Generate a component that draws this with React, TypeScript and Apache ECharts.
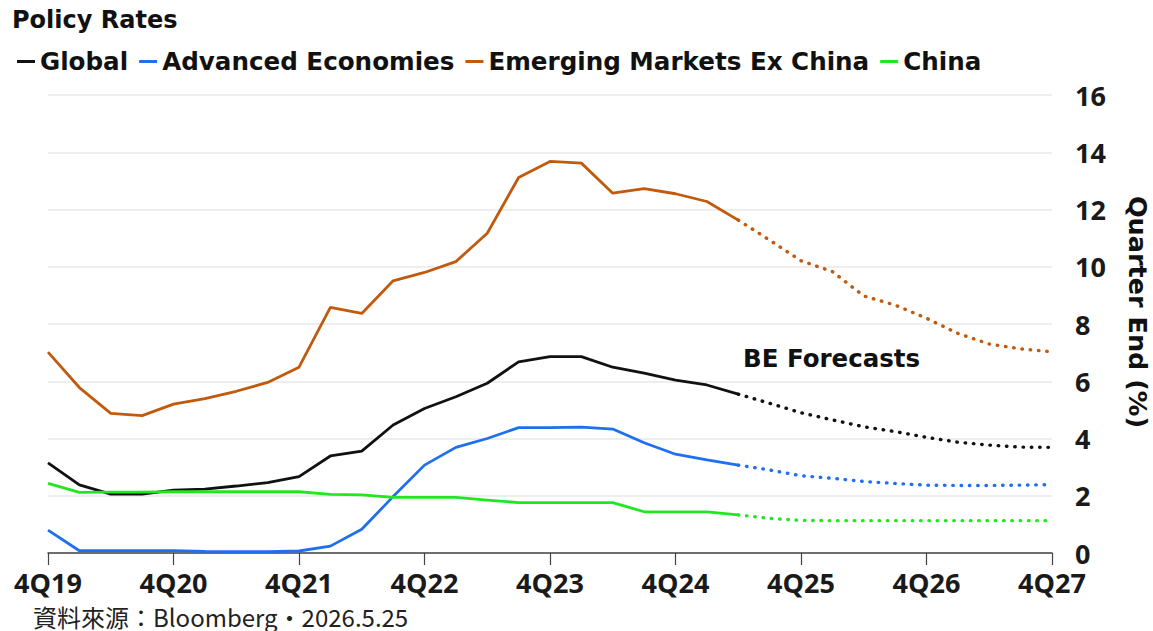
import React, { useEffect, useRef } from "react";
import * as echarts from "echarts";

const quarters = [
  "4Q19", "1Q20", "2Q20", "3Q20", "4Q20", "1Q21", "2Q21", "3Q21", "4Q21",
  "1Q22", "2Q22", "3Q22", "4Q22", "1Q23", "2Q23", "3Q23", "4Q23",
  "1Q24", "2Q24", "3Q24", "4Q24", "1Q25", "2Q25", "3Q25", "4Q25",
  "1Q26", "2Q26", "3Q26", "4Q26", "1Q27", "2Q27", "3Q27", "4Q27",
];

// index of the last actual (non-forecast) quarter
const lastActualIndex = 22;

const globalRates = [
  3.15, 2.38, 2.06, 2.06, 2.2, 2.23, 2.34, 2.46, 2.67, 3.39, 3.56, 4.47, 5.05,
  5.46, 5.93, 6.68, 6.86, 6.86, 6.49, 6.28, 6.04, 5.87, 5.55, 5.23, 4.9,
  4.65, 4.41, 4.24, 4.04, 3.87, 3.77, 3.7, 3.69,
];
const advancedRates = [
  0.8, 0.08, 0.08, 0.08, 0.08, 0.06, 0.05, 0.05, 0.07, 0.24, 0.83, 1.97, 3.07,
  3.69, 4.0, 4.38, 4.38, 4.4, 4.33, 3.85, 3.45, 3.25, 3.07, 2.9, 2.7,
  2.61, 2.5, 2.43, 2.37, 2.36, 2.36, 2.37, 2.39,
];
const emExChinaRates = [
  7.02, 5.78, 4.88, 4.8, 5.2, 5.39, 5.65, 5.96, 6.49, 8.58, 8.37, 9.51, 9.8,
  10.18, 11.17, 13.12, 13.68, 13.62, 12.57, 12.73, 12.55, 12.28, 11.63, 10.93, 10.21,
  9.83, 8.98, 8.66, 8.2, 7.67, 7.3, 7.13, 7.03,
];
const chinaRates = [
  2.43, 2.12, 2.13, 2.13, 2.14, 2.14, 2.14, 2.14, 2.14, 2.05, 2.03, 1.94, 1.94,
  1.94, 1.85, 1.76, 1.76, 1.76, 1.76, 1.44, 1.44, 1.44, 1.33, 1.21, 1.14,
  1.13, 1.13, 1.13, 1.13, 1.13, 1.13, 1.13, 1.13,
];

const seriesNames = ["Global", "Advanced Economies", "Emerging Markets Ex China", "China"];
const seriesColors = ["#111111", "#1f6ff0", "#c25a0e", "#22e622"];
const seriesValues = [globalRates, advancedRates, emExChinaRates, chinaRates];

const yTicks = { min: 0, max: 16, interval: 2 };

const titleText = "Policy Rates";
const yAxisName = "Quarter End (%)";
const forecastLabel = "BE Forecasts";
const sourceText = "資料來源：Bloomberg‧2026.5.25";

const BOLD_FONT = "DejaVu Sans";
const TICK_FONT = "Open Sans";

export default function App() {
  const ref = useRef<HTMLDivElement>(null);

  useEffect(() => {
    if (!ref.current) return;
    const chart = echarts.init(ref.current, undefined, { renderer: "svg" });

    const series: any[] = [];
    seriesNames.forEach((name, k) => {
      const vals = seriesValues[k];
      series.push({
        name,
        type: "line",
        data: vals.map((v, i) => (i <= lastActualIndex ? v : null)),
        symbol: "none",
        color: seriesColors[k],
        lineStyle: { color: seriesColors[k], width: 2.8 },
        connectNulls: false,
        z: 3 + k,
      });
      series.push({
        name: name + " forecast",
        type: "line",
        data: vals.map((v, i) => (i >= lastActualIndex ? v : null)),
        symbol: "none",
        color: seriesColors[k],
        lineStyle: {
          color: seriesColors[k],
          width: 3.4,
          type: [0.5, 7.8],
          cap: "round",
        },
        connectNulls: false,
        z: 3 + k,
      });
    });

    chart.setOption({
      animation: false,
      backgroundColor: "#ffffff",
      title: {
        text: titleText,
        left: 12,
        top: 8,
        padding: 0,
        textStyle: {
          fontFamily: BOLD_FONT,
          fontWeight: "bold",
          fontSize: 24,
          color: "#111",
        },
      },
      legend: {
        data: seriesNames.map((n, k) => ({ name: n, itemStyle: { color: seriesColors[k] } })),
        left: 17,
        top: 49,
        padding: 0,
        itemGap: 11,
        itemWidth: 18,
        itemHeight: 3,
        icon: "rect",
        textStyle: {
          fontFamily: BOLD_FONT,
          fontWeight: "bold",
          fontSize: 24.6,
          color: "#111",
        },
      },
      grid: {
        left: 48,
        right: 101,
        top: 95,
        bottom: 78,
        containLabel: false,
        outerBoundsMode: "none",
      },
      xAxis: {
        type: "category",
        data: quarters,
        boundaryGap: false,
        axisLine: { lineStyle: { color: "#444", width: 1.5 } },
        axisTick: { interval: 3, length: 12, lineStyle: { color: "#444", width: 1.2 } },
        axisLabel: {
          interval: 3,
          margin: 15,
          fontFamily: TICK_FONT,
          fontWeight: "bold",
          fontSize: 27,
          lineHeight: 28,
          color: "#1a1a1a",
        },
        splitLine: { show: false },
      },
      yAxis: {
        type: "value",
        position: "right",
        min: yTicks.min,
        max: yTicks.max,
        interval: yTicks.interval,
        name: yAxisName,
        nameLocation: "middle",
        nameRotate: -90,
        nameGap: 73,
        nameTextStyle: {
          fontFamily: BOLD_FONT,
          fontWeight: "bold",
          fontSize: 25.5,
          color: "#111",
          padding: [0, 24, 0, 0],
        },
        axisLine: { show: false },
        axisTick: { show: false },
        axisLabel: {
          margin: 23,
          fontFamily: TICK_FONT,
          fontWeight: "bold",
          fontSize: 27,
          lineHeight: 26,
          color: "#1a1a1a",
        },
        splitLine: { lineStyle: { color: "#e8e8e8", width: 1.6 } },
      },
      graphic: [
        {
          type: "text",
          left: 743,
          top: 346,
          style: {
            text: forecastLabel,
            fontFamily: BOLD_FONT,
            fontWeight: "bold",
            fontSize: 24.5,
            fill: "#111",
          },
        },
        {
          type: "text",
          left: 33,
          top: 604,
          style: {
            text: sourceText,
            fontFamily: "Noto Sans CJK TC",
            fontSize: 24,
            fill: "#222",
          },
        },
      ],
      series,
    });

    return () => chart.dispose();
  }, []);

  return (
    <div
      ref={ref}
      style={{ position: "fixed", left: 0, top: 0, width: 1153, height: 631, background: "#fff" }}
    />
  );
}
